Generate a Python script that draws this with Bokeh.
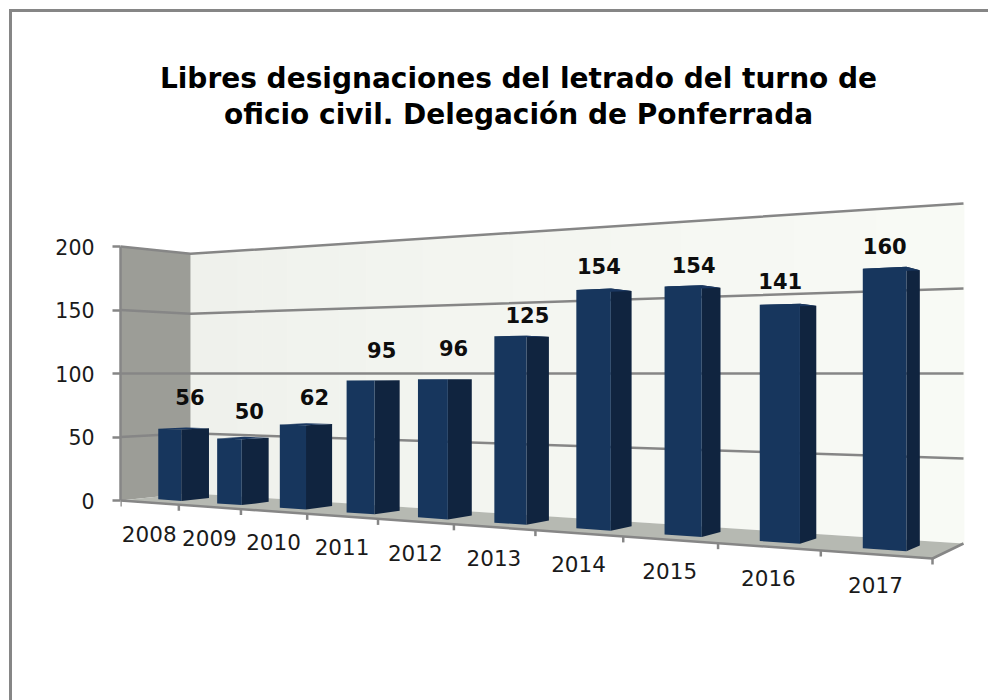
from bokeh.embed import file_html
from bokeh.resources import INLINE
from bokeh.models import LinearAxis, Range1d, FixedTicker
from bokeh.plotting import figure
from bokeh.core.properties import value
import numpy as np

# ---------- data ----------
years = ["2008", "2009", "2010", "2011", "2012", "2013", "2014", "2015", "2016", "2017"]
designaciones = [56, 50, 62, 95, 96, 125, 154, 154, 141, 160]
y_ticks = [0, 50, 100, 150, 200]
title_lines = ["Libres designaciones del letrado del turno de",
               "oficio civil. Delegación de Ponferrada"]

# ---------- layout of the perspective ----------
W, H = 988, 700
X_L = 120
FL, FR, BR, BL = (120, 500), (932, 558), (963, 543), (190, 492.7)
HORIZON = 373
Z_FRONT, Z_BACK = 0.30, 0.70
BAR_W = 0.40
BAR_SHIFT = -0.02
LABEL_NUDGE = [(5, -11), (5, -6), (7, -6), (7, -9), (7, -10), (4, 0), (-7, -3), (-1, -1), (-10, -3), (-9, -2)]
AXIS_COLOR = "#868686"


def homography(corners):
    src = [(0, 0), (1, 0), (1, 1), (0, 1)]
    A, b = [], []
    for (u, w), (x, y) in zip(src, corners):
        A.append([u, w, 1, 0, 0, 0, -u * x, -w * x]); b.append(x)
        A.append([0, 0, 0, u, w, 1, -u * y, -w * y]); b.append(y)
    return np.append(np.linalg.solve(np.array(A, float), np.array(b, float)), 1).reshape(3, 3)


M = homography([FL, FR, BR, BL])


def project(u, d, v=0.0):
    """u: along the category axis 0..1, d: depth 0..1, v: axis value."""
    q = M @ np.array([u, d, 1.0])
    sx, sy = q[0] / q[2], q[1] / q[2]
    return sx, HORIZON + (sy - HORIZON) * (100 - v) / 100


def lerp_color(a, b, t):
    return "#" + "".join(f"{round(p + (q - p) * t):02x}" for p, q in zip(a, b))


v_per_px = (y_ticks[-1] - y_ticks[0]) / (FL[1] - (2 * HORIZON - FL[1]))
v_low = (FL[1] - H) * v_per_px
v_high = FL[1] * v_per_px

frame_css = ("linear-gradient(#868686,#868686) 9px 9px/3px 100% no-repeat,"
             "linear-gradient(#868686,#868686) 9px 9px/100% 3px no-repeat,#ffffff")

p = figure(width=W, height=H, output_backend="svg", toolbar_location=None,
           x_range=Range1d(X_L, W), y_range=Range1d(H, 0),
           x_axis_location=None, y_axis_location=None,
           min_border_left=X_L, min_border_right=0, min_border_top=0, min_border_bottom=0,
           border_fill_color=None, background_fill_color=None,
           styles={"background": frame_css})
p.outline_line_color = None
p.xgrid.visible = False
p.ygrid.visible = False
p.extra_y_ranges = {"valor": Range1d(v_low, v_high)}

axis = LinearAxis(y_range_name="valor", ticker=FixedTicker(ticks=y_ticks), bounds=(y_ticks[0], y_ticks[-1]))
axis.axis_line_color = AXIS_COLOR
axis.axis_line_width = 2.5
axis.major_tick_line_color = AXIS_COLOR
axis.major_tick_line_width = 2.5
axis.major_tick_out = 8
axis.major_tick_in = 0
axis.minor_tick_line_color = None
axis.major_label_text_font = "DejaVu Sans"
axis.major_label_text_font_size = "20.5px"
axis.major_label_text_color = "#1a1a1a"
axis.major_label_standoff = 18
p.add_layout(axis, "left")

# back wall as thin vertical strips (soft gradient)
STRIPS = 24
for i in range(STRIPS):
    u0, u1 = i / STRIPS, (i + 1.02) / STRIPS
    a = project(u0, 1, 0); b = project(u1, 1, 0); c = project(u1, 1, 200); d = project(u0, 1, 200)
    p.patch([a[0], b[0], c[0], d[0]], [a[1], b[1], c[1], d[1]],
            fill_color=lerp_color((0xef, 0xf1, 0xec), (0xf8, 0xfa, 0xf5), i / (STRIPS - 1)), line_color=None)

# side wall and floor
sw = [project(0, 0, 0), project(0, 1, 0), project(0, 1, 200), project(0, 0, 200)]
p.patch([q[0] for q in sw], [q[1] for q in sw], fill_color="#9c9d97", line_color=None)
fl = [project(0, 0), project(1, 0), project(1, 1), project(0, 1)]
p.patch([q[0] for q in fl], [q[1] for q in fl], fill_color="#b6b9b2", line_color=None)

# grid lines on both walls
xs, ys = [], []
for t in y_ticks[1:]:
    a, b, c = project(0, 0, t), project(0, 1, t), project(1, 1, t)
    xs.append([a[0], b[0], c[0]])
    ys.append([a[1], b[1], c[1]])
p.multi_line(xs, ys, line_color=AXIS_COLOR, line_width=2.5)

# floor edge and category ticks
a, b, c = project(0, 0), project(1, 0), project(1, 1)
p.line([a[0], b[0], c[0]], [a[1], b[1], c[1]], line_color=AXIS_COLOR, line_width=2.5)
n = len(years)
tx, ty = [], []
for i in range(0, n + 1):
    q = project(i / n, 0)
    tx.append([q[0], q[0]])
    ty.append([q[1], q[1] + 6])
p.multi_line(tx, ty, line_color=AXIS_COLOR, line_width=2.5)

# bars
for i, val in enumerate(designaciones):
    u0 = (i + 0.5 + BAR_SHIFT - BAR_W / 2) / n
    u1 = (i + 0.5 + BAR_SHIFT + BAR_W / 2) / n
    fb = project(u0, Z_FRONT); fr = project(u1, Z_FRONT); br = project(u1, Z_BACK)
    ft = project(u0, Z_FRONT, val); frt = project(u1, Z_FRONT, val)
    brt = project(u1, Z_BACK, val); blt = project(u0, Z_BACK, val)
    p.patch([fr[0], br[0], brt[0], frt[0]], [fr[1], br[1], brt[1], frt[1]], fill_color="#10243f", line_color=None)
    p.patch([ft[0], frt[0], brt[0], blt[0]], [ft[1], frt[1], brt[1], blt[1]], fill_color="#1a3760", line_color=None)
    p.patch([fb[0], fr[0], frt[0], ft[0]], [fb[1], fr[1], frt[1], ft[1]], fill_color="#17365d", line_color=None)

# value labels
lx, ly = [], []
for i, val in enumerate(designaciones):
    q = project((i + 0.5) / n, (Z_FRONT + Z_BACK) / 2, val)
    lx.append(q[0] + LABEL_NUDGE[i][0])
    ly.append(q[1] - 21 + LABEL_NUDGE[i][1])
p.text(lx, ly, text=[str(v) for v in designaciones], text_font=value("DejaVu Sans"), text_font_style="bold",
       text_font_size="21px", text_align="center", text_baseline="middle", text_color="#0d0d0d")

# category labels
cx, cy = [], []
for i in range(n):
    q = project((i + 0.5) / n, 0)
    cx.append(q[0])
    cy.append(q[1] + 31)
p.text(cx, cy, text=years, text_font=value("DejaVu Sans"), text_font_size="21.5px", text_align="center",
       text_baseline="middle", text_color="#1a1a1a")

# title
p.text([518, 518], [78, 114], text=title_lines, text_font=value("DejaVu Sans"), text_font_style="bold",
       text_font_size="28px", text_align="center", text_baseline="middle", text_color="#000000")

open("out.html", "w").write(file_html(p, INLINE))
